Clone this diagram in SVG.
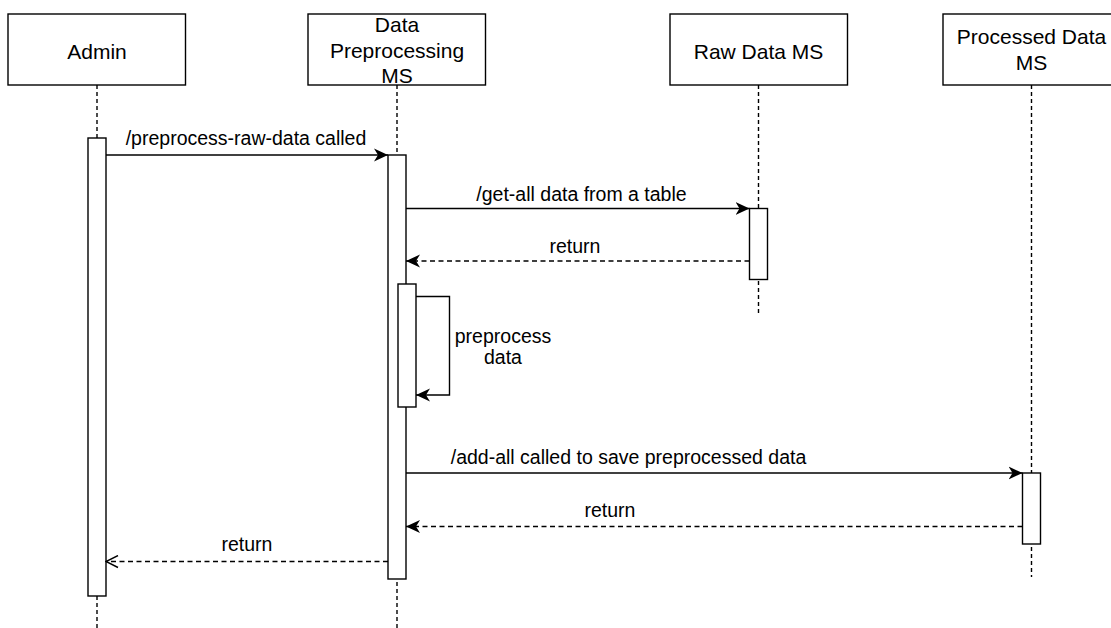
<svg xmlns="http://www.w3.org/2000/svg" width="1111" height="628" viewBox="0 0 1111 628">
  <style>
    .box { fill: #ffffff; stroke: #000000; stroke-width: 1.4; }
    .life { fill: none; stroke: #000000; stroke-width: 1.4; stroke-dasharray: 4 3; }
    .act { fill: #ffffff; stroke: #000000; stroke-width: 1.4; }
    .msg { fill: none; stroke: #000000; stroke-width: 1.4; }
    .ret { fill: none; stroke: #000000; stroke-width: 1.4; stroke-dasharray: 5 3.5; }
    .title { font-family: "Liberation Sans", Arial, sans-serif; font-size: 21px; fill: #000000; text-anchor: middle; }
    .label { font-family: "Liberation Sans", Arial, sans-serif; font-size: 19.5px; fill: #000000; text-anchor: middle; }
  </style>
  <defs>
    <marker id="classic" markerUnits="userSpaceOnUse" markerWidth="15" markerHeight="14" viewBox="0 0 15 14" refX="14" refY="7" orient="auto">
      <path d="M0,0.5 L14,7 L0,13.5 L4,7 Z" fill="#000000" stroke="none"/>
    </marker>
    <marker id="open" markerUnits="userSpaceOnUse" markerWidth="14" markerHeight="14" viewBox="0 0 14 14" refX="13" refY="7" orient="auto">
      <path d="M1,1 L13,7 L1,13" fill="none" stroke="#000000" stroke-width="1.4" stroke-dasharray="none"/>
    </marker>
  </defs>

  <rect width="1111" height="628" fill="#ffffff"/>

  <!-- lifelines -->
  <g id="lifelines">
    <line class="life" x1="97" y1="85" x2="97" y2="628"/>
    <line class="life" x1="397" y1="85" x2="397" y2="628"/>
    <line class="life" x1="758.5" y1="85" x2="758.5" y2="313"/>
    <line class="life" x1="1031.5" y1="85" x2="1031.5" y2="577"/>
  </g>

  <!-- participants -->
  <g id="admin">
    <rect class="box" x="8" y="14" width="177.5" height="71"/>
    <text class="title" x="97" y="59">Admin</text>
    <rect class="act" x="88" y="138" width="18" height="458"/>
  </g>

  <g id="data-preprocessing-ms">
    <rect class="box" x="308" y="14" width="177.5" height="71"/>
    <text class="title" x="397" y="32">Data</text>
    <text class="title" x="397" y="58">Preprocessing</text>
    <text class="title" x="397" y="83">MS</text>
    <rect class="act" x="388" y="155" width="18" height="424"/>
    <rect class="act" x="398" y="284" width="18" height="123"/>
  </g>

  <g id="raw-data-ms">
    <rect class="box" x="670" y="14" width="177.5" height="71"/>
    <text class="title" x="758.5" y="59">Raw Data MS</text>
    <rect class="act" x="749.5" y="208.5" width="18" height="71"/>
  </g>

  <g id="processed-data-ms">
    <rect class="box" x="943" y="14" width="177.5" height="71"/>
    <text class="title" x="1031.5" y="44">Processed Data</text>
    <text class="title" x="1031.5" y="70">MS</text>
    <rect class="act" x="1022.5" y="473" width="18" height="71"/>
  </g>

  <!-- messages -->
  <g id="connectors">
    <line class="msg" x1="106" y1="155" x2="388" y2="155" marker-end="url(#classic)"/>
    <text class="label" x="246" y="145">/preprocess-raw-data called</text>

    <line class="msg" x1="406" y1="208.5" x2="749.5" y2="208.5" marker-end="url(#classic)"/>
    <text class="label" x="581.5" y="200.5">/get-all data from a table</text>

    <line class="ret" x1="749.5" y1="261" x2="406" y2="261" marker-end="url(#classic)"/>
    <text class="label" x="575" y="252.5">return</text>

    <path class="msg" d="M416,296.5 H449.5 V395 H416" marker-end="url(#classic)"/>
    <text class="label" x="503" y="342.5">preprocess</text>
    <text class="label" x="503" y="364">data</text>

    <line class="msg" x1="406" y1="473" x2="1022.5" y2="473" marker-end="url(#classic)"/>
    <text class="label" x="628.5" y="463.5">/add-all called to save preprocessed data</text>

    <line class="ret" x1="1022.5" y1="526.5" x2="406" y2="526.5" marker-end="url(#classic)"/>
    <text class="label" x="610" y="517">return</text>

    <line class="ret" x1="388" y1="561.5" x2="106" y2="561.5" marker-end="url(#open)"/>
    <text class="label" x="247" y="551">return</text>
  </g>
</svg>
